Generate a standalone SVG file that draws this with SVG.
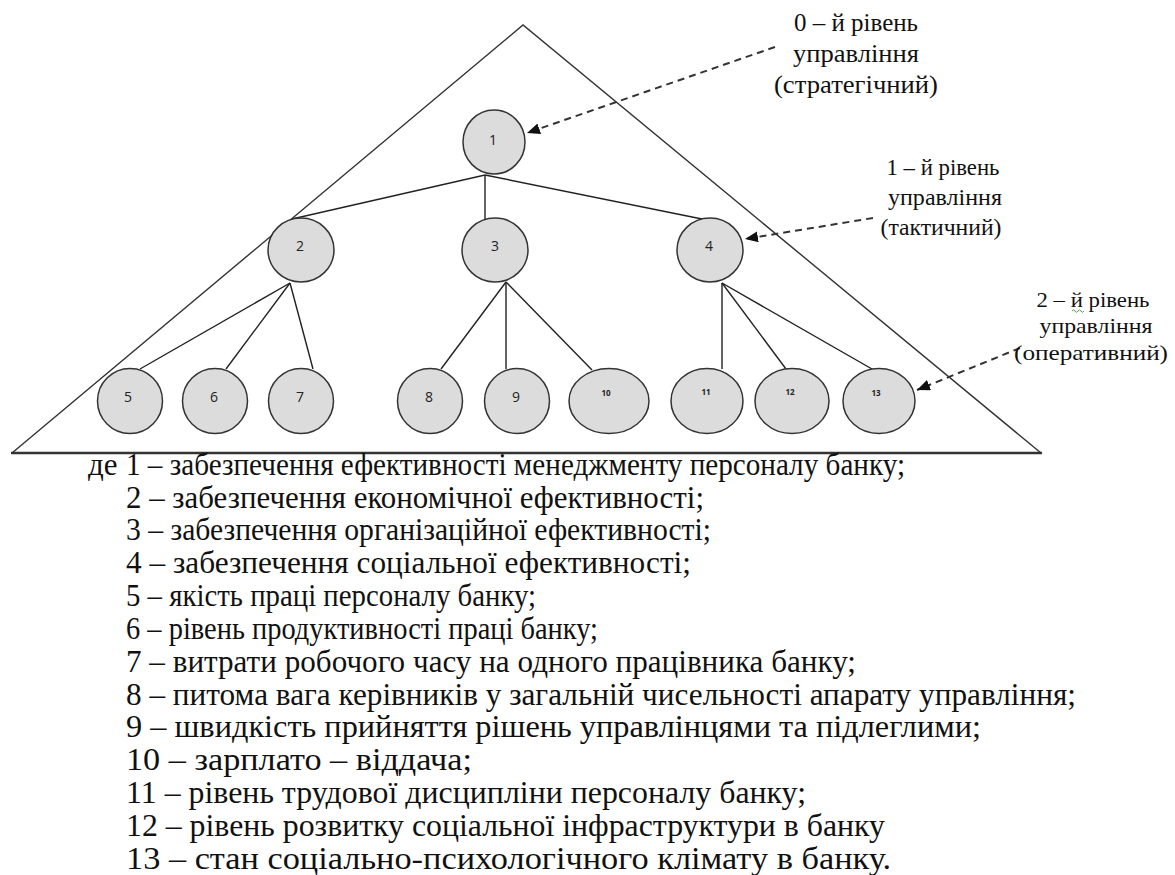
<svg xmlns="http://www.w3.org/2000/svg" width="1175" height="875" viewBox="0 0 1175 875">
<style>
.node ellipse{fill:#dcdcdc;stroke:#333;stroke-width:1.5}
.num{font-family:"Open Sans","Liberation Sans",sans-serif;font-size:14px;fill:#222;text-anchor:middle}
.tiny{font-family:"Open Sans","Liberation Sans",sans-serif;font-size:8px;font-weight:bold;fill:#222;text-anchor:middle}
.edge{stroke:#222;stroke-width:1.4;fill:none}
.dash{stroke:#333;stroke-width:2;stroke-dasharray:7 5;fill:none}
.lbl{font-family:"Liberation Serif","Times New Roman",serif;fill:#111;text-anchor:middle}
.leg{font-family:"Liberation Serif","Times New Roman",serif;font-size:31px;fill:#111}
</style>
<defs>
<marker id="ah" markerUnits="userSpaceOnUse" markerWidth="14" markerHeight="12" refX="13" refY="5.5" orient="auto">
<path d="M0,0 L13,5.5 L0,11 z" fill="#111"/>
</marker>
</defs>
<rect width="1175" height="875" fill="#fff"/>
<g id="triangle">
<path d="M12,453 L523,25 L1041,453" fill="none" stroke="#333" stroke-width="1.4"/>
<line x1="11" y1="453" x2="1042" y2="453" stroke="#333" stroke-width="2.4"/>
</g>
<g id="connectors">
<line class="edge" x1="485" y1="175" x2="292" y2="219"/>
<line class="edge" x1="485" y1="175" x2="485" y2="219"/>
<line class="edge" x1="485" y1="175" x2="702" y2="219"/>
<line class="edge" x1="290" y1="283" x2="140" y2="369"/>
<line class="edge" x1="290" y1="283" x2="226" y2="369"/>
<line class="edge" x1="290" y1="283" x2="313" y2="369"/>
<line class="edge" x1="506" y1="282" x2="441" y2="369"/>
<line class="edge" x1="506" y1="282" x2="506" y2="369"/>
<line class="edge" x1="506" y1="282" x2="592" y2="370"/>
<line class="edge" x1="722" y1="283" x2="722" y2="369"/>
<line class="edge" x1="722" y1="283" x2="786" y2="369"/>
<line class="edge" x1="722" y1="283" x2="872" y2="369"/>
<line class="dash" x1="775" y1="47" x2="527" y2="133" marker-end="url(#ah)"/>
<line class="dash" x1="873" y1="218" x2="745" y2="239" marker-end="url(#ah)"/>
<line class="dash" x1="1020" y1="348" x2="917" y2="390" marker-end="url(#ah)"/>
</g>
<g id="n1" class="node"><ellipse cx="494" cy="142" rx="31" ry="32"/><text class="num" x="493" y="145">1</text></g>
<g id="n2" class="node"><ellipse cx="301" cy="250" rx="33" ry="32"/><text class="num" x="300" y="251">2</text></g>
<g id="n3" class="node"><ellipse cx="495" cy="250" rx="33" ry="32"/><text class="num" x="495" y="251">3</text></g>
<g id="n4" class="node"><ellipse cx="710" cy="250" rx="33" ry="32"/><text class="num" x="709" y="251">4</text></g>
<g id="n5" class="node"><ellipse cx="130" cy="401" rx="32.5" ry="32.5"/><text class="num" x="128" y="402">5</text></g>
<g id="n6" class="node"><ellipse cx="215" cy="401" rx="32.5" ry="32.5"/><text class="num" x="214" y="402">6</text></g>
<g id="n7" class="node"><ellipse cx="301" cy="401" rx="32.5" ry="32.5"/><text class="num" x="300" y="402">7</text></g>
<g id="n8" class="node"><ellipse cx="430" cy="401" rx="32.5" ry="32.5"/><text class="num" x="429" y="402">8</text></g>
<g id="n9" class="node"><ellipse cx="517" cy="401" rx="32.5" ry="32.5"/><text class="num" x="516" y="402">9</text></g>
<g id="n10" class="node"><ellipse cx="609" cy="401" rx="40" ry="32.5"/><text class="tiny" x="606" y="396">10</text></g>
<g id="n11" class="node"><ellipse cx="707" cy="401" rx="36" ry="32.5"/><text class="tiny" x="706" y="395">11</text></g>
<g id="n12" class="node"><ellipse cx="792" cy="401" rx="37" ry="32.5"/><text class="tiny" x="790" y="395">12</text></g>
<g id="n13" class="node"><ellipse cx="879" cy="401" rx="36" ry="32.5"/><text class="tiny" x="876" y="396">13</text></g>
<g id="label0">
<text class="lbl" font-size="25" x="856" y="31" textLength="124" lengthAdjust="spacingAndGlyphs">0 – й рівень</text>
<text class="lbl" font-size="25" x="856" y="62" textLength="126" lengthAdjust="spacingAndGlyphs">управління</text>
<text class="lbl" font-size="25" x="856" y="93" textLength="164" lengthAdjust="spacingAndGlyphs">(стратегічний)</text>
</g>
<g id="label1">
<text class="lbl" font-size="23" x="943" y="175" textLength="113" lengthAdjust="spacingAndGlyphs">1 – й рівень</text>
<text class="lbl" font-size="23" x="945" y="205" textLength="114" lengthAdjust="spacingAndGlyphs">управління</text>
<text class="lbl" font-size="23" x="941" y="235" textLength="121" lengthAdjust="spacingAndGlyphs">(тактичний)</text>
</g>
<g id="label2">
<text class="lbl" font-size="22" x="1093" y="307" textLength="113" lengthAdjust="spacingAndGlyphs">2 – й рівень</text>
<path d="M1072,311 q1.5,-2.5 3,0 t3,0 t3,0 t3,0" fill="none" stroke="#4a4" stroke-width="1"/>
<text class="lbl" font-size="22" x="1096" y="333" textLength="113" lengthAdjust="spacingAndGlyphs">управління</text>
<text class="lbl" font-size="22" x="1091" y="360" textLength="154" lengthAdjust="spacingAndGlyphs">(оперативний)</text>
</g>
<g id="legend" class="leg">
<text x="88" y="475">де</text>
<text x="126" y="475" textLength="779" lengthAdjust="spacingAndGlyphs">1 – забезпечення ефективності менеджменту персоналу банку;</text>
<text x="126" y="508" textLength="578" lengthAdjust="spacingAndGlyphs">2 – забезпечення економічної ефективності;</text>
<text x="126" y="540" textLength="585" lengthAdjust="spacingAndGlyphs">3 – забезпечення організаційної ефективності;</text>
<text x="126" y="573" textLength="565" lengthAdjust="spacingAndGlyphs">4 – забезпечення соціальної ефективності;</text>
<text x="126" y="606" textLength="410" lengthAdjust="spacingAndGlyphs">5 – якість праці персоналу банку;</text>
<text x="126" y="639" textLength="472" lengthAdjust="spacingAndGlyphs">6 – рівень продуктивності праці банку;</text>
<text x="126" y="672" textLength="730" lengthAdjust="spacingAndGlyphs">7 – витрати робочого часу на одного працівника банку;</text>
<text x="126" y="705" textLength="950" lengthAdjust="spacingAndGlyphs">8 – питома вага керівників у загальній чисельності апарату управління;</text>
<text x="126" y="737" textLength="855" lengthAdjust="spacingAndGlyphs">9 – швидкість прийняття рішень управлінцями та підлеглими;</text>
<text x="126" y="770" textLength="346" lengthAdjust="spacingAndGlyphs">10 – зарплато – віддача;</text>
<text x="126" y="803" textLength="680" lengthAdjust="spacingAndGlyphs">11 – рівень трудової дисципліни персоналу банку;</text>
<text x="126" y="836" textLength="759" lengthAdjust="spacingAndGlyphs">12 – рівень розвитку соціальної інфраструктури в банку</text>
<text x="126" y="869" textLength="765" lengthAdjust="spacingAndGlyphs">13 – стан соціально-психологічного клімату в банку.</text>
</g>
</svg>
